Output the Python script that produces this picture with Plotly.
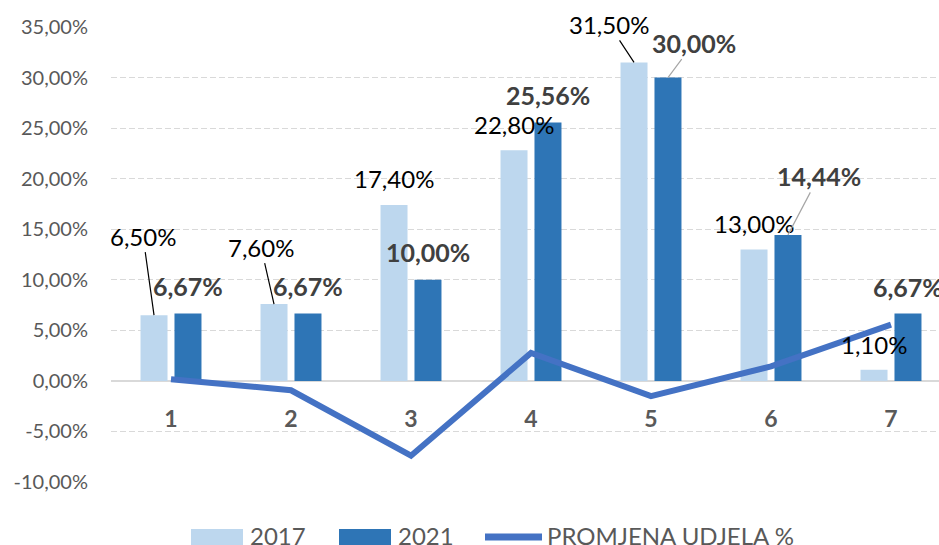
import plotly.graph_objects as go

# ---------------- data ----------------
categories = [1, 2, 3, 4, 5, 6, 7]
share_2017 = [6.50, 7.60, 17.40, 22.80, 31.50, 13.00, 1.10]
share_2021 = [6.67, 6.67, 10.00, 25.56, 30.00, 14.44, 6.67]
change_pct = [0.17, -0.93, -7.40, 2.76, -1.50, 1.44, 5.57]
y_tick_values = [-10, -5, 0, 5, 10, 15, 20, 25, 30, 35]
series_names = ["2017", "2021", "PROMJENA UDJELA %"]

# ---------------- style ----------------
W, H = 939, 545
ML, MR, MT, MB = 111, 0, 27, 63
PW, PH = W - ML - MR, H - MT - MB
FONT = "Lato, 'Open Sans', sans-serif"
C_LIGHT = "#BDD7EE"
C_DARK = "#2E75B6"
C_LINE = "#4472C4"
C_TEXT = "#595959"
BAR_W = 0.225
OFF_LIGHT = -0.254
OFF_DARK = 0.029


def fmt(v):
    return f"{v:.2f}".replace(".", ",") + "%"


def px_x(px):
    return (px - ML) / PW


def px_y(py):
    return (H - MB - py) / PH


fig = go.Figure()
fig.add_trace(go.Bar(x=categories, y=share_2017, name=series_names[0],
                     marker=dict(color=C_LIGHT, line=dict(width=0)),
                     width=BAR_W, offset=OFF_LIGHT, showlegend=False))
fig.add_trace(go.Bar(x=categories, y=share_2021, name=series_names[1],
                     marker=dict(color=C_DARK, line=dict(width=0)),
                     width=BAR_W, offset=OFF_DARK, showlegend=False))
fig.add_trace(go.Scatter(x=categories, y=change_pct, name=series_names[2],
                         mode="lines", line=dict(color=C_LINE, width=6),
                         showlegend=False))

# data label placement (pixel offsets of label centre from bar top) and leader colour
light_place = [(-11, -79, "#000000"), (-13, -57, "#000000"), (0, -26, None),
               (0, -26, None), (-25, -38, "#000000"), (0, -26, None), (0, -25, None)]
dark_place = [(0, -27, None), (0, -27, None), (0, -28, None), (0, -27, None),
              (26, -35, "#A6A6A6"), (31, -59, "#A6A6A6"), (0, -26, None)]

annotations = []
for i, c in enumerate(categories):
    ax, ay, col = light_place[i]
    annotations.append(dict(
        x=c + OFF_LIGHT + BAR_W / 2, y=share_2017[i], xref="x", yref="y",
        text=fmt(share_2017[i]), showarrow=True, arrowhead=0, arrowwidth=1.2,
        arrowcolor=col if col else "rgba(0,0,0,0)", standoff=0, ax=ax, ay=ay,
        font=dict(family=FONT, size=24, color="#000000")))
    ax, ay, col = dark_place[i]
    annotations.append(dict(
        x=c + OFF_DARK + BAR_W / 2, y=share_2021[i], xref="x", yref="y",
        text="<b>" + fmt(share_2021[i]) + "</b>", showarrow=True, arrowhead=0,
        arrowwidth=1.2, arrowcolor=col if col else "rgba(0,0,0,0)", standoff=0,
        ax=ax, ay=ay, font=dict(family=FONT, size=25, color="#404040")))

# custom legend
shapes = []
legend_items = [
    ("rect", C_LIGHT, 191, 243, 248, series_names[0]),
    ("rect", C_DARK, 339, 391, 396, series_names[1]),
    ("line", C_LINE, 485, 542, 545, series_names[2]),
]
for kind, colr, x0, x1, tx, label in legend_items:
    if kind == "rect":
        shapes.append(dict(type="rect", xref="paper", yref="paper",
                           x0=px_x(x0), x1=px_x(x1), y0=px_y(529), y1=px_y(548),
                           fillcolor=colr, line=dict(width=0), layer="above"))
    else:
        shapes.append(dict(type="line", xref="paper", yref="paper",
                           x0=px_x(x0), x1=px_x(x1), y0=px_y(537), y1=px_y(537),
                           line=dict(color=colr, width=7), layer="above"))
    annotations.append(dict(x=px_x(tx), y=px_y(535), xref="paper", yref="paper",
                            text=label, showarrow=False, xanchor="left",
                            yanchor="middle",
                            font=dict(family=FONT, size=24, color=C_TEXT)))

fig.update_layout(
    width=W, height=H,
    margin=dict(l=ML, r=MR, t=MT, b=MB, pad=0),
    paper_bgcolor="white", plot_bgcolor="white",
    separators=", ",
    barmode="overlay",
    showlegend=False,
    annotations=annotations,
    shapes=shapes,
    font=dict(family=FONT, color=C_TEXT),
)
fig.update_xaxes(
    range=[0.5, 0.5 + PW / 120.0], tickmode="array", tickvals=categories,
    ticktext=[f"<b>{c}</b>" for c in categories],
    tickfont=dict(family=FONT, size=23, color=C_TEXT),
    showgrid=False, zeroline=False, showline=False, ticks="",
    anchor="free", position=10 / 45, ticklabelstandoff=22,
)
fig.update_yaxes(
    range=[-10, 35], tickmode="array", tickvals=y_tick_values,
    ticktext=[fmt(v) for v in y_tick_values],
    tickfont=dict(family=FONT, size=20, color=C_TEXT),
    showgrid=True, gridcolor="#D9D9D9", griddash="6px,3px", gridwidth=1,
    zeroline=True, zerolinecolor="#D9D9D9", zerolinewidth=2,
    showline=False, ticks="", ticklabelstandoff=22,
)

fig.write_html(
    "out.html",
    config={"displayModeBar": False},
    post_script="document.body.style.margin='0px';document.body.style.overflow='hidden';",
)
